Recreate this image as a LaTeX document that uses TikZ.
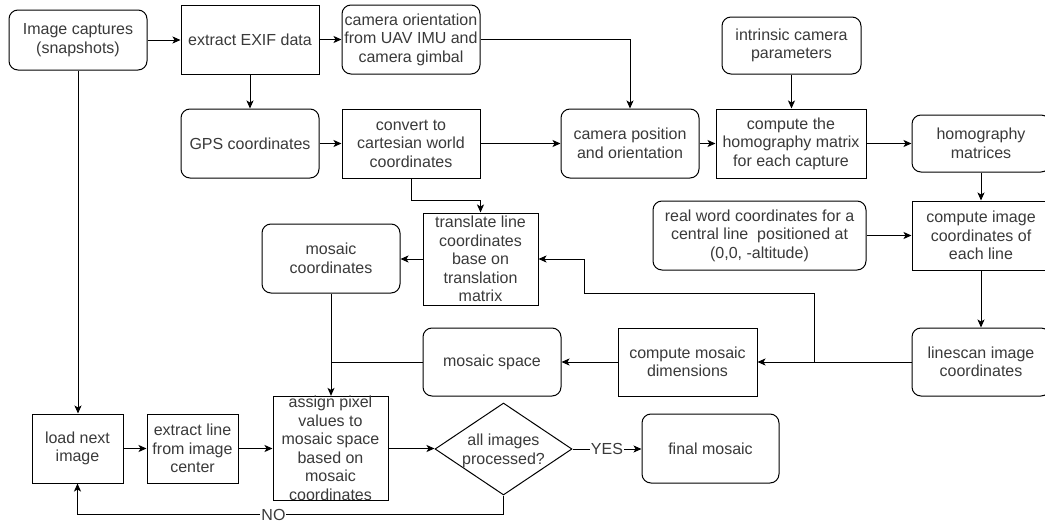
\documentclass[tikz,border=0pt]{standalone}
\usepackage{fontspec}
\setmainfont{Liberation Sans}
\usetikzlibrary{shapes.geometric,arrows.meta}
\definecolor{txt}{HTML}{3A3A3A}
\begin{document}
\begin{tikzpicture}[x=1pt,y=-1pt,
  base/.style={draw=black, line width=1pt, text=txt, align=center, font=\fontsize{16}{18.5}\selectfont, inner sep=0pt},
  sq/.style={base},
  rb/.style={base, rounded corners=9pt},
  arr/.style={-{Stealth[length=8pt,width=7pt,inset=2pt]}, line width=1pt},
  ln/.style={line width=1pt},
  lbl/.style={fill=white, text=txt, font=\fontsize{16}{16}\selectfont, inner sep=1pt}
]
\clip (0,0) rectangle (1045,522);
\fill[white] (0,0) rectangle (1045,522);

\node[rb, minimum width=138pt, minimum height=60pt] (cap) at (78,40) {Image captures\\(snapshots)};
\node[sq, minimum width=138pt, minimum height=69pt] (exif) at (250,39.5) {extract EXIF data};
\node[rb, minimum width=138pt, minimum height=69pt] (camor) at (411,39.5) {camera orientation\\from UAV IMU and\\camera gimbal};
\node[rb, minimum width=138pt, minimum height=69pt] (gps) at (250,143.5) {GPS coordinates};
\node[sq, minimum width=138pt, minimum height=69pt] (conv) at (411,143.5) {convert to\\cartesian world\\coordinates};
\node[rb, minimum width=138pt, minimum height=69pt] (campos) at (630,143.5) {camera position\\and orientation};
\node[rb, minimum width=139pt, minimum height=57pt] (intr) at (791.5,45.5) {intrinsic camera\\parameters};
\node[sq, minimum width=150pt, minimum height=69pt] (homog) at (791,143.5) {compute the\\homography matrix\\for each capture};
\node[rb, minimum width=138pt, minimum height=57pt] (hmat) at (981,143.5) {homography\\matrices};
\node[sq, minimum width=138pt, minimum height=69pt] (imgc) at (981,235.5) {compute image\\coordinates of\\each line};
\node[rb, minimum width=213pt, minimum height=69pt] (real) at (759.5,235.5) {real word coordinates for a\\central line\ \ positioned at\\(0,0, -altitude)};
\node[rb, minimum width=138pt, minimum height=68pt] (lines) at (981,362) {linescan image\\coordinates};
\node[sq, minimum width=139pt, minimum height=68pt] (mdim) at (687.5,362) {compute mosaic\\dimensions};
\node[rb, minimum width=138pt, minimum height=68pt] (mspace) at (492,362) {mosaic space};
\node[sq, minimum width=115pt, minimum height=92pt] (trans) at (480.5,259) {translate line\\coordinates\\base on\\translation\\matrix};
\node[rb, minimum width=138pt, minimum height=69pt] (mcoord) at (331,258.5) {mosaic\\coordinates};
\node[sq, minimum width=115pt, minimum height=103pt] (assign) at (330.5,448.5) {assign pixel\\values to\\mosaic space\\based on\\mosaic\\coordinates};
\node[sq, minimum width=91pt, minimum height=69pt] (load) at (77.5,448.5) {load next\\image};
\node[sq, minimum width=91pt, minimum height=69pt] (extl) at (192.5,448.5) {extract line\\from image\\center};
\node[diamond, draw=black, line width=1pt, minimum width=137pt, minimum height=92pt, inner sep=0pt] (dia) at (503.5,449) {};
\node[text=txt, align=center, font=\fontsize{16}{18.5}\selectfont, inner sep=0pt] (diat) at (503.5,451) {all images\\processed?};
\node[rb, minimum width=137pt, minimum height=69pt] (final) at (710.5,448.5) {final mosaic};

\coordinate (j1) at (814,362);
\coordinate (j2) at (584,293);

% top row
\draw[arr] (cap.east) -- (cap.east -| exif.west);
\draw[arr] (exif.east) -- (exif.east -| camor.west);
\draw[arr] (exif.south) -- (gps.north);
\draw[arr] (camor.east) -| (campos.north);
\draw[arr] (gps.east) -- (conv.west);
\draw[arr] (conv.east) -- (campos.west);
\draw[arr] (campos.east) -- (homog.west);
\draw[arr] (intr.south) -- (intr.south |- homog.north);
\draw[arr] (homog.east) -- (hmat.west);
\draw[arr] (hmat.south) -- (imgc.north);
\draw[arr] (real.east) -- (imgc.west);
\draw[arr] (imgc.south) -- (lines.north);
% middle
\draw[arr] (conv.south) -- ++(0,22) -| (trans.north);
\draw[arr] (trans.west) -- (trans.west -| mcoord.east);
\draw[arr] (lines.west) -- (mdim.east);
\draw[arr] (j1) |- (j2) |- (trans.east);
\draw[arr] (mdim.west) -- (mspace.east);
\draw[ln] (mspace.west) -- (mspace.west -| mcoord.south);
\draw[arr] (mcoord.south) -- (mcoord.south |- assign.north);
% bottom
\draw[arr] (cap.south) -- (cap.south |- load.north);
\draw[arr] (load.east) -- (extl.west);
\draw[arr] (extl.east) -- (extl.east -| assign.west);
\draw[arr] (assign.east) -- (assign.east -| dia.west);
\draw[arr] (dia.east) -- node[lbl] (yes) {YES} (dia.east -| final.west);
\draw[arr] (dia.south) -- ++(0,19) -| node[lbl, pos=0.27] (no) {NO} (load.south);
\end{tikzpicture}
\end{document}
